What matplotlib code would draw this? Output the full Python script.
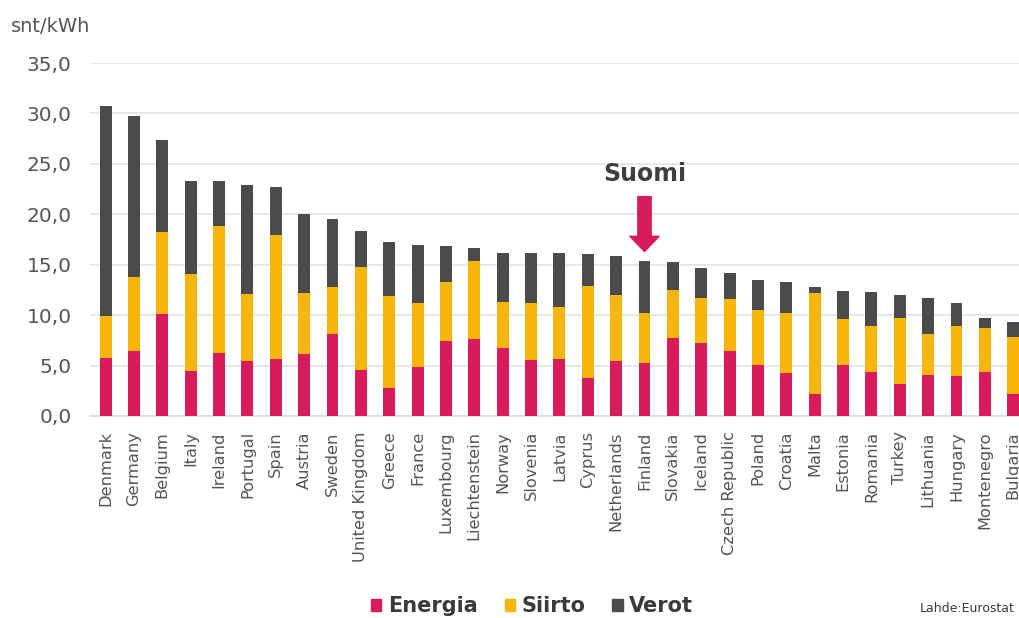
import numpy as np
import matplotlib
matplotlib.use("Agg")
import matplotlib.pyplot as plt
from matplotlib.patches import Patch

# Sähkön hinnan osat, snt/kWh (luettu kuvasta)
maat = ["Denmark", "Germany", "Belgium", "Italy", "Ireland", "Portugal", "Spain",
        "Austria", "Sweden", "United Kingdom", "Greece", "France", "Luxembourg",
        "Liechtenstein", "Norway", "Slovenia", "Latvia", "Cyprus", "Netherlands",
        "Finland", "Slovakia", "Iceland", "Czech Republic", "Poland", "Croatia",
        "Malta", "Estonia", "Romania", "Turkey", "Lithuania", "Hungary",
        "Montenegro", "Bulgaria"]

energia = [5.75, 6.45, 10.1, 4.5, 6.2, 5.45, 5.6, 6.1, 8.15, 4.55, 2.75, 4.9, 7.4,
           7.6, 6.7, 5.55, 5.6, 3.75, 5.4, 5.2, 7.7, 7.2, 6.4, 5.05, 4.25, 2.2,
           5.05, 4.4, 3.2, 4.1, 4.0, 4.4, 2.2]
siirto = [4.15, 7.35, 8.1, 9.6, 12.6, 6.65, 12.3, 6.1, 4.65, 10.2, 9.15, 6.3, 5.9,
          7.8, 4.6, 5.65, 5.2, 9.15, 6.6, 5.0, 4.8, 4.5, 5.2, 5.45, 5.95, 10.0,
          4.55, 4.5, 6.5, 4.0, 4.9, 4.3, 5.6]
verot = [20.85, 15.9, 9.2, 9.2, 4.5, 10.8, 4.8, 7.8, 6.7, 3.55, 5.3, 5.8, 3.6,
         1.3, 4.9, 5.0, 5.4, 3.2, 3.9, 5.2, 2.75, 3.0, 2.55, 3.0, 3.1, 0.55,
         2.75, 3.4, 2.3, 3.6, 2.3, 1.0, 1.55]

vari_energia = "#D81B5B"
vari_siirto = "#F6B50A"
vari_verot = "#4B4B4B"
harmaa = "#555555"

fig = plt.figure(figsize=(10.2, 6.18), dpi=100)
ax = fig.add_axes([0.088, 0.327, 0.912, 0.571])

x = np.arange(len(maat))
leveys = 0.42
e = np.array(energia)
s = np.array(siirto)
v = np.array(verot)

ax.bar(x, e, leveys, color=vari_energia, zorder=3)
ax.bar(x, s, leveys, bottom=e, color=vari_siirto, zorder=3)
ax.bar(x, v, leveys, bottom=e + s, color=vari_verot, zorder=3)

ax.set_ylim(0, 35)
ax.set_xlim(-0.56, 32.24)
ax.set_yticks(np.arange(0, 36, 5))
ax.set_yticklabels([f"{t:.1f}".replace(".", ",") for t in np.arange(0, 36, 5)])
ax.set_xticks(x)
ax.set_xticklabels(maat, rotation=90, va="top", ha="center")
ax.tick_params(axis="y", length=0, pad=13, labelsize=14.5, labelcolor=harmaa)
ax.tick_params(axis="x", length=0, pad=11, labelsize=11.7, labelcolor=harmaa)

ax.grid(axis="y", color="#E3E3E3", linewidth=1.2, zorder=0)
for puoli in ["left", "right", "top"]:
    ax.spines[puoli].set_visible(False)
ax.spines["bottom"].set_color("#D9D9D9")
ax.spines["bottom"].set_linewidth(1.2)

fig.text(0.011, 1 - 27 / 618, "snt/kWh", fontsize=14, color=harmaa, va="center")

# Suomi-nuoli
ax.text(19, 24.0, "Suomi", fontsize=17, fontweight="bold", color="#3F3F3F",
        ha="center", va="center")
ax.annotate("", xy=(19, 16.3), xytext=(19, 21.75),
            arrowprops=dict(arrowstyle="simple,head_width=1.05,head_length=0.55,tail_width=0.48",
                            color=vari_energia, shrinkA=0, shrinkB=0, mutation_scale=20))

kahvat = [Patch(color=vari_energia), Patch(color=vari_siirto), Patch(color=vari_verot)]
fig.legend(kahvat, ["Energia", "Siirto", "Verot"], loc="center",
           bbox_to_anchor=(532 / 1020, 1 - 606 / 618), ncol=3, frameon=False,
           handlelength=0.5, handleheight=0.5, handletextpad=0.3, columnspacing=1.3,
           prop={"size": 15, "weight": "bold"}, labelcolor="#3A3A3A")

fig.text(0.995, 1 - 608 / 618, "Lahde:Eurostat", fontsize=9, color="#3A3A3A",
         ha="right", va="center")

fig.savefig("out.png", dpi=100)
